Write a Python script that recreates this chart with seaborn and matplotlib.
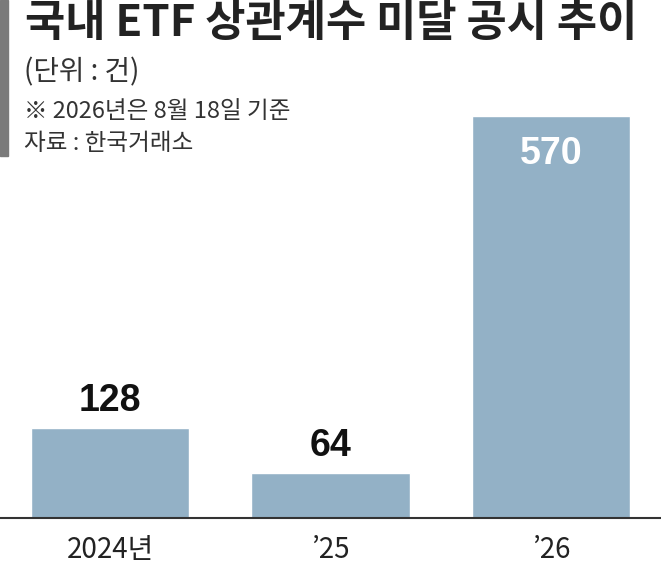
import pandas as pd
import matplotlib.pyplot as plt
import seaborn as sns
from matplotlib.patches import Rectangle

years = ["2024년", "’25", "’26"]
counts = [128, 64, 570]

title = "국내 ETF 상관계수 미달 공시 추이"
unit = "(단위 : 건)"
note = "※ 2026년은 8월 18일 기준"
source = "자료 : 한국거래소"

sns.set_theme(style="white")
plt.rcParams['font.family'] = ['Noto Sans CJK KR', 'DejaVu Sans']

df = pd.DataFrame({"year": years, "count": counts})

fig = plt.figure(figsize=(6.61, 5.67), dpi=100)
fig.patch.set_facecolor("white")
ax = fig.add_axes([0, 49 / 567, 1, 518 / 567])
sns.barplot(data=df, x="year", y="count", color="#93b1c6", width=0.72,
            saturation=1, ax=ax)
ax.set_xlim(-0.5, 2.5)
ax.set_ylim(0, 734)
ax.set_xlabel("")
ax.set_ylabel("")
ax.set_yticks([])
for s in ["top", "left", "right"]:
    ax.spines[s].set_visible(False)
ax.spines["bottom"].set_color("#333333")
ax.spines["bottom"].set_linewidth(1.5)
ax.tick_params(axis="x", length=0, pad=12, labelsize=20, colors="#222222")

num_font = ['Liberation Sans', 'DejaVu Sans']
for i, v in enumerate(counts):
    if v > 400:
        ax.text(i, v - 54, str(v), ha="center", va="center", color="white",
                fontsize=27, fontweight="bold", family=num_font)
    else:
        ax.text(i, v + 12, str(v), ha="center", va="bottom", color="#111111",
                fontsize=27, fontweight="bold", family=num_font)

fig.patches.append(Rectangle((0, 1 - 156 / 567), 8 / 661, 156 / 567,
                             transform=fig.transFigure, color="#7a7a7a"))
fig.text(25 / 661, 1 - 23 / 567, title, fontsize=31.5, fontweight="heavy",
         color="#222222", va="center", ha="left")
fig.text(24 / 661, 1 - 72 / 567, unit, fontsize=20, color="#333333",
         va="center", ha="left")
fig.text(24 / 661, 1 - 112 / 567, note, fontsize=17, color="#333333",
         va="center", ha="left")
fig.text(24 / 661, 1 - 144 / 567, source, fontsize=17, color="#333333",
         va="center", ha="left")

fig.savefig("out.png", dpi=100)
